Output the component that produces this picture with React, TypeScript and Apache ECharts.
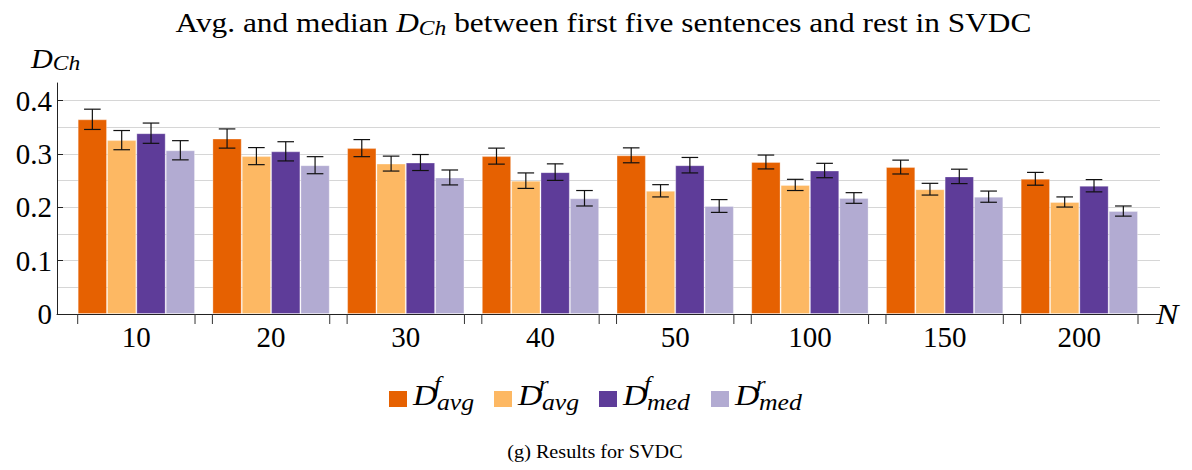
import React, { useEffect, useRef } from 'react';
import * as echarts from 'echarts';

// ---- data ----
const categories = ['10', '20', '30', '40', '50', '100', '150', '200'];
const avgF = [0.365, 0.329, 0.311, 0.296, 0.2975, 0.285, 0.2755, 0.2535];
const avgR = [0.326, 0.296, 0.282, 0.25, 0.231, 0.242, 0.234, 0.21];
const medF = [0.339, 0.305, 0.284, 0.266, 0.279, 0.269, 0.258, 0.2405];
const medR = [0.307, 0.279, 0.256, 0.217, 0.2025, 0.2175, 0.22, 0.193];
const errAvgF = [0.019, 0.018, 0.016, 0.015, 0.014, 0.013, 0.013, 0.012];
const errAvgR = [0.018, 0.016, 0.014, 0.0145, 0.0115, 0.0105, 0.011, 0.0095];
const errMedF = [0.019, 0.018, 0.015, 0.0155, 0.0145, 0.0135, 0.0135, 0.0115];
const errMedR = [0.018, 0.016, 0.014, 0.0145, 0.012, 0.01, 0.0105, 0.0095];

const seriesNames = ['D^f_avg', 'D^r_avg', 'D^f_med', 'D^r_med'];
const seriesColors = ['#E66101', '#FDB863', '#5E3C99', '#B2ABD2'];
const legendSup = ['f', 'r', 'f', 'r'];
const legendSub = ['avg', 'avg', 'med', 'med'];
const yTicks = [0, 0.1, 0.2, 0.3, 0.4];

const titleText = 'Avg. and median ';
const titleTail = ' between first five sentences and rest in SVDC';
const captionText = '(g) Results for SVDC';

const Y_MAX = 0.4331;
const GAP = 0.129;
const SERIF = 'Liberation Serif';
const SX = 1.12;

export default function App() {
  const ref = useRef<HTMLDivElement>(null);

  useEffect(() => {
    document.body.style.margin = '0';
    const chart = echarts.init(ref.current as HTMLDivElement, null, { renderer: 'svg' });
    const values = [avgF, avgR, medF, medR];
    const errs = [errAvgF, errAvgR, errMedF, errMedR];

    const barSeries = values.map((vals, k) => ({
      type: 'bar',
      name: seriesNames[k],
      xAxisIndex: 1,
      yAxisIndex: 1,
      data: vals,
      barGap: '0%',
      barCategoryGap: GAP * 100 + '%',
      silent: true,
      itemStyle: { color: seriesColors[k], borderColor: 'rgba(255,255,255,0.3)', borderWidth: 1 },
    }));

    const errSeries = values.map((vals, k) => ({
      type: 'custom',
      xAxisIndex: 1,
      yAxisIndex: 1,
      z: 5,
      silent: true,
      clip: false,
      data: vals.map((v, i) => [i, v, errs[k][i]]),
      encode: { x: 0, y: 1 },
      renderItem: (params: any, api: any) => {
        const i = api.value(0);
        const v = api.value(1);
        const e = api.value(2);
        const c = api.coord([i, v]);
        const band = api.size([1, 0])[0];
        const bw = (band * (1 - GAP)) / 4;
        const x = c[0] - 2 * bw + (k + 0.5) * bw;
        const yT = api.coord([i, v + e])[1];
        const yB = api.coord([i, v - e])[1];
        const hw = 8.3;
        const st = { stroke: '#111', lineWidth: 1.2 };
        return {
          type: 'group',
          children: [
            { type: 'line', shape: { x1: x, y1: yT, x2: x, y2: yB }, style: st },
            { type: 'line', shape: { x1: x - hw, y1: yT, x2: x + hw, y2: yT }, style: st },
            { type: 'line', shape: { x1: x - hw, y1: yB, x2: x + hw, y2: yB }, style: st },
          ],
        };
      },
    }));

    const tickSeries = {
      type: 'custom',
      xAxisIndex: 1,
      yAxisIndex: 1,
      silent: true,
      clip: false,
      data: categories.map((_, i) => [i, 0]),
      encode: { x: 0, y: 1 },
      renderItem: (params: any, api: any) => {
        const i = api.value(0);
        const c = api.coord([i, 0]);
        const half = (api.size([1, 0])[0] * (1 - GAP)) / 2;
        const st = { stroke: '#333', lineWidth: 1 };
        return {
          type: 'group',
          children: [
            { type: 'line', shape: { x1: c[0] - half, y1: c[1], x2: c[0] - half, y2: c[1] + 10 }, style: st },
            { type: 'line', shape: { x1: c[0] + half, y1: c[1], x2: c[0] + half, y2: c[1] + 10 }, style: st },
          ],
        };
      },
    };

    const richMain = {
      n: { fontSize: 28, fontFamily: SERIF, lineHeight: 30, verticalAlign: 'bottom', padding: [0, 0, 1, 0], fill: '#000' },
      i: { fontSize: 28, fontFamily: SERIF, fontStyle: 'italic', lineHeight: 30, verticalAlign: 'bottom', padding: [0, 0, 1, 0], fill: '#000' },
      s: { fontSize: 21, fontFamily: SERIF, fontStyle: 'italic', lineHeight: 20, verticalAlign: 'bottom', fill: '#000' },
    };

    const legendEls: any[] = [];
    const legendX = [389, 494, 599, 711];
    seriesColors.forEach((col, k) => {
      const x0 = legendX[k];
      legendEls.push({ type: 'rect', shape: { x: x0, y: 391, width: 18, height: 16 }, style: { fill: col } });
      legendEls.push({
        type: 'text', x: x0 + 24, y: 395, scaleX: SX,
        style: { text: 'D', fontSize: 30, fontFamily: SERIF, fontStyle: 'italic', fill: '#000', align: 'left', verticalAlign: 'middle' },
      });
      legendEls.push({
        type: 'text', x: x0 + 45, y: 383, scaleX: SX,
        style: { text: legendSup[k], fontSize: 22, fontFamily: SERIF, fontStyle: 'italic', fill: '#000', align: 'left', verticalAlign: 'middle' },
      });
      legendEls.push({
        type: 'text', x: x0 + 48, y: 402, scaleX: SX,
        style: { text: legendSub[k], fontSize: 23, fontFamily: SERIF, fontStyle: 'italic', fill: '#000', align: 'left', verticalAlign: 'middle' },
      });
    });

    const option: any = {
      animation: false,
      grid: [
        { left: 57, right: 32, top: 83, bottom: 156 },
        { left: 69, right: 45.3, top: 83, bottom: 156 },
      ],
      xAxis: [
        {
          gridIndex: 0, type: 'value', min: 0, max: 1,
          axisLine: { show: true, lineStyle: { color: '#222', width: 1 } },
          axisTick: { show: false }, axisLabel: { show: false }, splitLine: { show: false },
        },
        {
          gridIndex: 1, type: 'category', data: categories,
          axisLine: { show: false }, axisTick: { show: false }, splitLine: { show: false },
          axisLabel: { fontSize: 29, fontFamily: SERIF, color: '#000', margin: 8 },
        },
      ],
      yAxis: [
        {
          gridIndex: 0, type: 'value', min: 0, max: Y_MAX, interval: 0.05,
          axisLine: { show: false }, axisTick: { show: false }, axisLabel: { show: false },
          splitLine: { show: true, showMinLine: false, showMaxLine: false, lineStyle: { color: '#d6d6d6', width: 1 } },
        },
        { gridIndex: 1, type: 'value', min: 0, max: Y_MAX, show: false },
        {
          gridIndex: 0, type: 'value', min: 0, max: Y_MAX, interval: 0.1, position: 'left',
          axisLine: { show: true, onZero: false, lineStyle: { color: '#222', width: 1 } },
          axisTick: { show: true, inside: true, length: 6, customValues: yTicks, lineStyle: { color: '#222' } },
          axisLabel: {
            customValues: yTicks,
            formatter: (v: number) => (v === 0 ? '0' : v.toFixed(1)),
            fontSize: 29, fontFamily: SERIF, color: '#000', margin: 5,
          },
          splitLine: { show: false },
        },
      ],
      series: [...barSeries, ...errSeries, tickSeries],
      graphic: [
        {
          type: 'text', x: 603.5, y: 23, scaleX: SX,
          style: {
            text: '{n|' + titleText + '}{i|D}{s|Ch}{n|' + titleTail + '}',
            rich: richMain, align: 'center', verticalAlign: 'middle', fill: '#000',
          },
        },
        {
          type: 'text', x: 31, y: 58, scaleX: SX,
          style: {
            text: '{i|D}{s|Ch}',
            rich: {
              i: { fontSize: 27, fontFamily: SERIF, fontStyle: 'italic', lineHeight: 30, verticalAlign: 'bottom', padding: [0, 0, 1, 0], fill: '#000' },
              s: { fontSize: 21, fontFamily: SERIF, fontStyle: 'italic', lineHeight: 20, verticalAlign: 'bottom', fill: '#000' },
            },
            align: 'left', verticalAlign: 'middle', fill: '#000',
          },
        },
        {
          type: 'text', x: 1156, y: 314, scaleX: SX,
          style: { text: 'N', fontSize: 30, fontFamily: SERIF, fontStyle: 'italic', fill: '#000', align: 'left', verticalAlign: 'middle' },
        },
        ...legendEls,
        {
          type: 'text', x: 595, y: 452, scaleX: SX,
          style: { text: captionText, fontSize: 18, fontFamily: SERIF, fill: '#000', align: 'center', verticalAlign: 'middle' },
        },
      ],
    };

    chart.setOption(option);
    return () => chart.dispose();
  }, []);

  return <div ref={ref} style={{ position: 'absolute', left: 0, top: 0, width: 1192, height: 470 }} />;
}
